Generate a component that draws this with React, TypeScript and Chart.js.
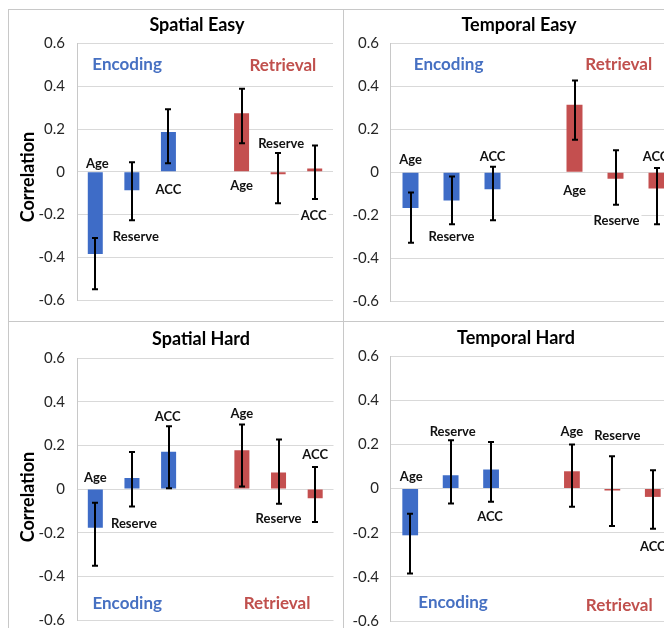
import React, { useEffect, useRef } from "react";
import { Chart, registerables } from "chart.js";

Chart.register(...registerables);

// ---------- data ----------
const categories = ["Age", "Reserve", "ACC", "", "Age", "Reserve", "ACC"];
const groupNames = ["Encoding", "Retrieval"];
const panelTitles = ["Spatial Easy", "Temporal Easy", "Spatial Hard", "Temporal Hard"];
const yAxisTitle = "Correlation";
const yMin = -0.6;
const yMax = 0.6;
const yStep = 0.2;

const spatialEasyValues = [-0.385, -0.086, 0.186, null, 0.274, -0.012, 0.015];
const spatialEasyLow = [-0.55, -0.227, 0.04, null, 0.133, -0.147, -0.127];
const spatialEasyHigh = [-0.31, 0.045, 0.292, null, 0.388, 0.088, 0.123];

const temporalEasyValues = [-0.167, -0.132, -0.079, null, 0.314, -0.03, -0.076];
const temporalEasyLow = [-0.329, -0.242, -0.224, null, 0.152, -0.152, -0.242];
const temporalEasyHigh = [-0.094, -0.02, 0.026, null, 0.427, 0.103, 0.02];

const spatialHardValues = [-0.177, 0.05, 0.171, null, 0.177, 0.076, -0.042];
const spatialHardLow = [-0.351, -0.08, 0.003, null, 0.012, -0.068, -0.151];
const spatialHardHigh = [-0.063, 0.169, 0.287, null, 0.295, 0.227, 0.101];

const temporalHardValues = [-0.212, 0.06, 0.086, null, 0.078, -0.003, -0.038];
const temporalHardLow = [-0.385, -0.068, -0.06, null, -0.083, -0.17, -0.182];
const temporalHardHigh = [-0.114, 0.218, 0.211, null, 0.199, 0.146, 0.083];

// ---------- styles / layout ----------
const FONT = "Lato, 'Open Sans', sans-serif";
const BAR_BLUE = "#3e6cc7";
const BAR_RED = "#c44f4f";
const TEXT_BLUE = "#4670c2";
const TEXT_RED = "#c0504d";
const GRID = "#d9d9d9";
const BORDER = "#c8c8c8";

type Panel = {
  title: string;
  values: (number | null)[];
  low: (number | null)[];
  high: (number | null)[];
  left: number;
  top: number;
  width: number;
  height: number;
  area: { left: number; right: number; top: number; bottom: number };
  tickPad: number;
  titlePos: { x: number; y: number };
  yTitlePos: { x: number; y: number } | null;
  barPct: number;
  labelY: (number | null)[];
  labelDx: number[];
  groupPos: { cat: number; y: number }[];
};

const panels: Panel[] = [
  {
    title: panelTitles[0],
    values: spatialEasyValues,
    low: spatialEasyLow,
    high: spatialEasyHigh,
    left: 0, top: 1, width: 335, height: 312,
    area: { left: 69, right: 325, top: 34.5, bottom: 299 },
    tickPad: 12,
    titlePos: { x: 189, y: 16 },
    yTitlePos: { x: 20, y: 168 },
    barPct: 0.41,
    labelY: [0.041, -0.3, -0.082, null, -0.064, 0.132, -0.205],
    labelDx: [2, 4, 0, 0, 0, 3, -1],
    groupPos: [{ cat: 0.87, y: 0.5 }, { cat: 5.13, y: 0.495 }],
  },
  {
    title: panelTitles[1],
    values: temporalEasyValues,
    low: temporalEasyLow,
    high: temporalEasyHigh,
    left: 335, top: 1, width: 345, height: 312,
    area: { left: 47, right: 334, top: 34.5, bottom: 299 },
    tickPad: 11,
    titlePos: { x: 176, y: 16 },
    yTitlePos: null,
    barPct: 0.39,
    labelY: [0.062, -0.3, 0.076, null, -0.083, -0.224, 0.076],
    labelDx: [0, 0, 0, 0, 0, 1, -1],
    groupPos: [{ cat: 0.93, y: 0.5 }, { cat: 5.08, y: 0.5 }],
  },
  {
    title: panelTitles[2],
    values: spatialHardValues,
    low: spatialHardLow,
    high: spatialHardHigh,
    left: 0, top: 313, width: 335, height: 320,
    area: { left: 69, right: 325.5, top: 37, bottom: 300 },
    tickPad: 12,
    titlePos: { x: 193, y: 18 },
    yTitlePos: { x: 20, y: 176 },
    barPct: 0.41,
    labelY: [0.055, -0.155, 0.332, null, 0.345, -0.132, 0.159],
    labelDx: [0, 2, -1, 0, 0, 0, 0],
    groupPos: [{ cat: 0.87, y: -0.524 }, { cat: 4.96, y: -0.524 }],
  },
  {
    title: panelTitles[3],
    values: temporalHardValues,
    low: temporalHardLow,
    high: temporalHardHigh,
    left: 335, top: 313, width: 345, height: 320,
    area: { left: 47, right: 330, top: 35, bottom: 300.5 },
    tickPad: 11,
    titlePos: { x: 173, y: 17 },
    yTitlePos: null,
    barPct: 0.39,
    labelY: [0.055, 0.259, -0.127, null, 0.259, 0.241, -0.264],
    labelDx: [1, 2, -1, 0, 0, 5, 0],
    groupPos: [{ cat: 1.06, y: -0.518 }, { cat: 5.17, y: -0.53 }],
  },
];

function makeOverlayPlugin(p: Panel) {
  return {
    id: "overlay" + p.title.replace(/\s/g, ""),
    afterDatasetsDraw(chart: any) {
      const ctx = chart.ctx as CanvasRenderingContext2D;
      const xs = chart.scales.x;
      const ys = chart.scales.y;
      const meta = chart.getDatasetMeta(0);
      ctx.save();

      // category labels with white background
      ctx.font = `bold 13px ${FONT}`;
      ctx.textAlign = "center";
      ctx.textBaseline = "middle";
      categories.forEach((c, i) => {
        const ly = p.labelY[i];
        if (!c || ly === null || ly === undefined) return;
        const x = xs.getPixelForValue(i) + p.labelDx[i];
        const y = ys.getPixelForValue(ly);
        const w = ctx.measureText(c).width;
        ctx.fillStyle = "#ffffff";
        ctx.fillRect(x - w / 2 - 2, y - 8, w + 4, 16);
        ctx.fillStyle = "#111111";
        ctx.fillText(c, x, y + 0.5);
      });

      // error bars
      ctx.strokeStyle = "#000000";
      ctx.lineWidth = 2;
      p.values.forEach((v, i) => {
        const lo = p.low[i];
        const hi = p.high[i];
        if (v === null || lo === null || hi === null) return;
        const el = meta.data[i];
        const x = Math.round(el.x);
        const y1 = ys.getPixelForValue(lo);
        const y2 = ys.getPixelForValue(hi);
        ctx.beginPath();
        ctx.moveTo(x, y1);
        ctx.lineTo(x, y2);
        ctx.moveTo(x - 3, y1);
        ctx.lineTo(x + 3, y1);
        ctx.moveTo(x - 3, y2);
        ctx.lineTo(x + 3, y2);
        ctx.stroke();
      });

      // group labels
      const x0 = xs.getPixelForValue(0);
      const dxc = xs.getPixelForValue(1) - x0;
      ctx.font = `bold 17px ${FONT}`;
      groupNames.forEach((g, gi) => {
        const gp = p.groupPos[gi];
        ctx.fillStyle = gi === 0 ? TEXT_BLUE : TEXT_RED;
        ctx.fillText(g, x0 + gp.cat * dxc, ys.getPixelForValue(gp.y));
      });

      // panel title
      ctx.fillStyle = "#000000";
      ctx.font = `bold 18px ${FONT}`;
      ctx.fillText(p.title, p.titlePos.x, p.titlePos.y);

      // y axis title
      if (p.yTitlePos) {
        ctx.translate(p.yTitlePos.x, p.yTitlePos.y);
        ctx.rotate(-Math.PI / 2);
        ctx.font = `bold 18px ${FONT}`;
        ctx.fillText(yAxisTitle, 0, 0);
      }
      ctx.restore();
    },
  };
}

function ChartPanel({ p }: { p: Panel }) {
  const ref = useRef<HTMLCanvasElement | null>(null);
  useEffect(() => {
    if (!ref.current) return;
    const colors = categories.map((_, i) => (i < 3 ? BAR_BLUE : BAR_RED));
    const chart = new Chart(ref.current, {
      type: "bar",
      data: {
        labels: categories,
        datasets: [
          {
            data: p.values as any,
            backgroundColor: colors,
            borderWidth: 0,
            barPercentage: p.barPct,
            categoryPercentage: 1,
            minBarLength: 2,
          },
        ],
      },
      options: {
        responsive: false,
        animation: false,
        devicePixelRatio: 1,
        layout: {
          padding: {
            left: 0,
            top: p.area.top,
            right: p.width - p.area.right,
            bottom: p.height - p.area.bottom,
          },
        },
        plugins: {
          legend: { display: false },
          title: { display: false },
          tooltip: { enabled: false },
        },
        scales: {
          x: { display: false },
          y: {
            min: yMin,
            max: yMax,
            afterFit: (scale: any) => {
              scale.width = p.area.left;
            },
            ticks: {
              stepSize: yStep,
              padding: p.tickPad,
              color: "#262626",
              font: { family: FONT, size: 15 },
              callback: (v: any) => {
                const r = Math.round(Number(v) * 10) / 10;
                return r === 0 ? "0" : r.toFixed(1);
              },
            },
            grid: { color: GRID, lineWidth: 1, drawTicks: false },
            border: { display: true, color: "#c8c8c8", width: 1 },
          },
        },
      },
      plugins: [makeOverlayPlugin(p)],
    });
    return () => chart.destroy();
  }, [p]);
  return (
    <canvas
      ref={ref}
      width={p.width}
      height={p.height}
      style={{ position: "absolute", left: p.left, top: p.top, width: p.width, height: p.height }}
    />
  );
}

export default function App() {
  return (
    <div style={{ position: "relative", width: 664, height: 620, overflow: "hidden", background: "#ffffff" }}>
      {panels.map((p) => (
        <ChartPanel key={p.title} p={p} />
      ))}
      <div style={{ position: "absolute", left: 0, top: 1, width: 1, height: 640, background: BORDER }} />
      <div style={{ position: "absolute", left: 0, top: 1, width: 680, height: 1, background: BORDER }} />
      <div style={{ position: "absolute", left: 335, top: 1, width: 1, height: 640, background: BORDER }} />
      <div style={{ position: "absolute", left: 0, top: 313, width: 680, height: 1, background: BORDER }} />
    </div>
  );
}
